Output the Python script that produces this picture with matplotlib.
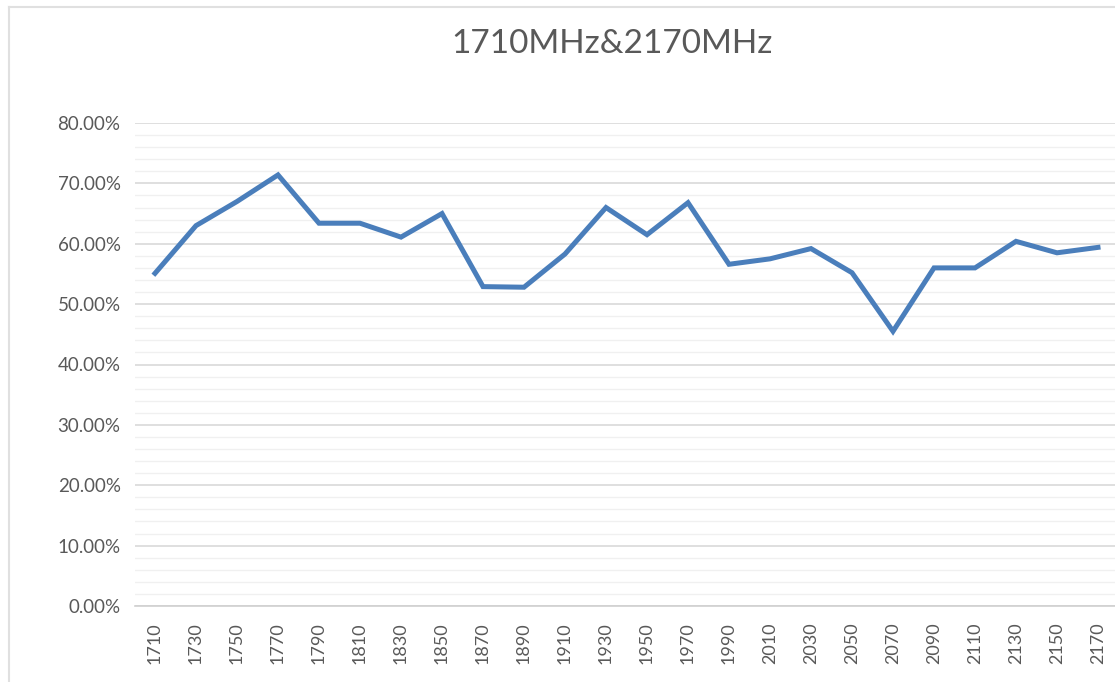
import numpy as np
import matplotlib.pyplot as plt
from matplotlib.ticker import MultipleLocator, FuncFormatter
from matplotlib.lines import Line2D

plt.rcParams['font.family'] = ['Lato', 'DejaVu Sans']

freqs = [1710, 1730, 1750, 1770, 1790, 1810, 1830, 1850, 1870, 1890, 1910, 1930,
         1950, 1970, 1990, 2010, 2030, 2050, 2070, 2090, 2110, 2130, 2150, 2170]
eff = [55.1, 63.0, 67.0, 71.4, 63.4, 63.4, 61.1, 65.0, 52.9, 52.8, 58.3, 66.0,
       61.5, 66.8, 56.6, 57.5, 59.2, 55.2, 45.5, 56.0, 56.0, 60.4, 58.5, 59.4]
title = "1710MHz&2170MHz"

grey = "#595959"

fig = plt.figure(figsize=(11.15, 6.82), dpi=100)
ax = fig.add_axes([134.5 / 1115, 1 - 606 / 682, 984 / 1115, 483 / 682])

x = np.arange(len(freqs))
ax.plot(x, eff, color="#4a7ebb", lw=3.6, solid_joinstyle="miter", zorder=3)

ax.set_xlim(-0.5, len(freqs) - 0.5)
ax.set_ylim(0, 80)
ax.yaxis.set_major_locator(MultipleLocator(10))
ax.yaxis.set_minor_locator(MultipleLocator(2))
ax.yaxis.set_major_formatter(FuncFormatter(lambda v, p: f"{v:.2f}%"))
ax.grid(axis="y", which="major", color="#d9d9d9", lw=1.2)
ax.grid(axis="y", which="minor", color="#f0f0f0", lw=1.0)
ax.set_axisbelow(True)

ax.set_xticks(x)
ax.set_xticklabels([str(f) for f in freqs], rotation=90)
ax.tick_params(axis="x", length=0, pad=12, labelsize=13, labelcolor=grey)
ax.tick_params(axis="y", which="both", length=0, pad=10, labelsize=13.5, labelcolor=grey)

for s in ["top", "right", "left"]:
    ax.spines[s].set_visible(False)
ax.spines["bottom"].set_color("#d0d0d0")
ax.spines["bottom"].set_linewidth(1.2)

fig.text(612 / 1115, 1 - 44 / 682, title, ha="center", va="center",
         fontsize=24, color=grey)

# chart area border (left and top edges visible)
fig.add_artist(Line2D([8.5 / 1115, 8.5 / 1115], [0, 1 - 6.5 / 682],
                      transform=fig.transFigure, color="#e0e0e0", lw=1.5))
fig.add_artist(Line2D([8.5 / 1115, 1], [1 - 6.5 / 682, 1 - 6.5 / 682],
                      transform=fig.transFigure, color="#e0e0e0", lw=1.5))

fig.savefig("out.png", dpi=100)
